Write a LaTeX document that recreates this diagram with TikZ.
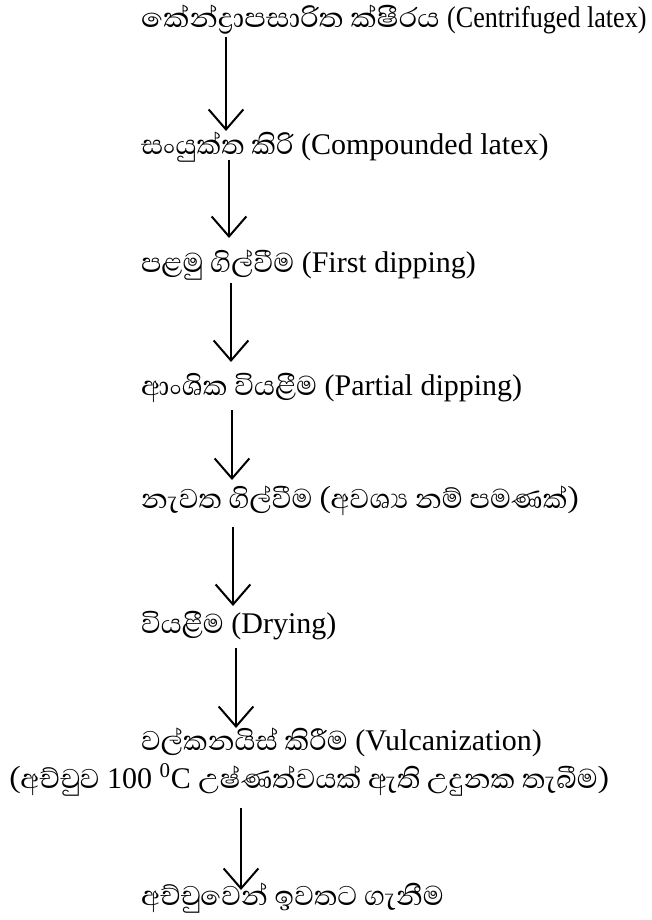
\documentclass[tikz,border=0pt]{standalone}
\usepackage{fontspec}
\setmainfont{Liberation Serif}
\newfontfamily\sinhalafont[Script=Sinhala, Scale=1.16]{Abhaya Libre}
\usetikzlibrary{arrows.meta, calc}

\begin{document}
\begin{tikzpicture}[x=0.75pt, y=-0.75pt, line width=1.5pt,
      stage/.style={anchor=base west, inner sep=0pt,
                    font=\fontsize{22.5}{27}\selectfont},
      flow/.style={-{Straight Barb[length=15pt, width=26pt]}}]

    \useasboundingbox (0,0) rectangle (652,920);

    % Process stages (base line of each text)
    \node[stage] (centri) at (140, 28)  {\scalebox{1.06}[1]{\sinhalafont කේන්ද්^^^^200dරාපසාරිත ක්ෂීරය} \scalebox{0.87}[1]{(Centrifuged latex)}};
    \node[stage] (compd)  at (140, 155) {{\sinhalafont සංයුක්ත කිරි} (Compounded latex)};
    \node[stage] (first)  at (140, 272) {{\sinhalafont පළමු ගිල්වීම} (First dipping)};
    \node[stage] (part)   at (140, 395) {{\sinhalafont ආංශික වියළීම} (Partial dipping)};
    \node[stage] (again)  at (140, 508) {{\sinhalafont නැවත ගිල්වීම (අවශ්^^^^200dය නම් පමණක්)}};
    \node[stage] (dry)    at (140, 633) {{\sinhalafont වියළීම} (Drying)};
    \node[stage] (vulc)   at (140, 750) {{\sinhalafont වල්කනයිස් කිරීම} (Vulcanization)};
    \node[stage] (oven)   at (8, 788)   {{\sinhalafont (අච්චුව} 100 \textsuperscript{0}C {\sinhalafont උෂ්ණත්වයක් ඇති උදුනක තැබීම)}};
    \node[stage] (strip)  at (140, 905) {{\sinhalafont අච්චුවෙන් ඉවතට ගැනීම}};

    % Arrows between stages (offsets from the base west of each node)
    \foreach \a/\b/\xa/\ya/\xb/\yb in {centri/compd/86/9/86/-24,
        compd/first/89/5/89/-34, first/part/91/11/91/-33,
        part/again/92/15/92/-28, again/dry/93/19/93/-27,
        dry/vulc/96/15/96/-22, oven/strip/233/20/101/-15}
      \draw[flow] ($(\a.base west)+(\xa,\ya)$) -- ($(\b.base west)+(\xb,\yb)$);

\end{tikzpicture}
\end{document}
